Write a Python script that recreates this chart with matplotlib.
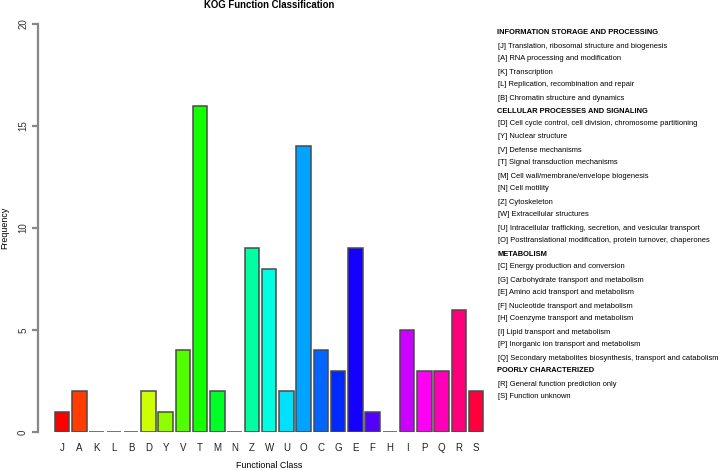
import matplotlib
matplotlib.use("Agg")
import matplotlib.pyplot as plt
import colorsys

categories = ["J", "A", "K", "L", "B", "D", "Y", "V", "T", "M", "N", "Z", "W",
              "U", "O", "C", "G", "E", "F", "H", "I", "P", "Q", "R", "S"]
values = [1, 2, 0, 0, 0, 2, 1, 4, 16, 2, 0, 9, 8, 2, 14, 4, 3, 9, 1, 0, 5, 3, 3, 6, 2]
y_ticks = [0, 5, 10, 15, 20]

legend_groups = [
    ("INFORMATION STORAGE AND PROCESSING", [
        "[J] Translation, ribosomal structure and biogenesis",
        "[A] RNA processing and modification",
        "[K] Transcription",
        "[L] Replication, recombination and repair",
        "[B] Chromatin structure and dynamics"]),
    ("CELLULAR PROCESSES AND SIGNALING", [
        "[D] Cell cycle control, cell division, chromosome partitioning",
        "[Y] Nuclear structure",
        "[V] Defense mechanisms",
        "[T] Signal transduction mechanisms",
        "[M] Cell wall/membrane/envelope biogenesis",
        "[N] Cell motility",
        "[Z] Cytoskeleton",
        "[W] Extracellular structures",
        "[U] Intracellular trafficking, secretion, and vesicular transport",
        "[O] Posttranslational modification, protein turnover, chaperones"]),
    ("METABOLISM", [
        "[C] Energy production and conversion",
        "[G] Carbohydrate transport and metabolism",
        "[E] Amino acid transport and metabolism",
        "[F] Nucleotide transport and metabolism",
        "[H] Coenzyme transport and metabolism",
        "[I] Lipid transport and metabolism",
        "[P] Inorganic ion transport and metabolism",
        "[Q] Secondary metabolites biosynthesis, transport and catabolism"]),
    ("POORLY CHARACTERIZED", [
        "[R] General function prediction only",
        "[S] Function unknown"]),
]

plt.rcParams['font.family'] = ['Liberation Sans', 'DejaVu Sans']

W, H = 721, 470
fig = plt.figure(figsize=(W / 100, H / 100), dpi=100)
fig.patch.set_facecolor("white")

left_px, right_px, top_px, bottom_px = 37.8, 500.5, 24, 432
ax = fig.add_axes([left_px / W, (H - bottom_px) / H,
                   (right_px - left_px) / W, (bottom_px - top_px) / H])

n = len(categories)
colors = [colorsys.hsv_to_rgb(i / n, 1, 1) for i in range(n)]
xs = [0.7 + 1.2 * i for i in range(n)]
ax.bar(xs, values, width=1.0, color=colors, edgecolor="#4a4a4a", linewidth=1.1)

ax.set_xlim(0.2 - 0.04 * 29.8, 30.0 + 0.04 * 29.8)
ax.set_ylim(0, 20)

for s in ["top", "right", "bottom"]:
    ax.spines[s].set_visible(False)
ax.spines["left"].set_color("#888888")
ax.spines["left"].set_linewidth(1.6)
ax.spines["left"].set_bounds(0, 20)

ax.set_yticks(y_ticks)
ax.set_yticklabels([str(t) for t in y_ticks], rotation=90, va="center", fontsize=7)
ax.tick_params(axis="y", length=4, width=1.6, color="#888888", labelcolor="#333333", pad=3)
ax.set_xticks(xs)
ax.set_xticklabels(categories, fontsize=7)
ax.tick_params(axis="x", length=0, pad=8, labelcolor="#222222")

fig.text(269 / W, 1 - 5 / H, "KOG Function Classification", ha="center", va="center",
         fontsize=6.9, fontweight="bold")
fig.text(269 / W, 1 - 465 / H, "Functional Class", ha="center", va="center", fontsize=6.4)
fig.text(5 / W, 1 - 228 / H, "Frequency", ha="center", va="center", rotation=90, fontsize=6.4)

y = 33
for header, items in legend_groups:
    fig.text(497 / W, 1 - y / H, header, ha="left", va="center", fontsize=5.45, fontweight="bold")
    y += 13
    for it in items:
        fig.text(498.5 / W, 1 - y / H, it, ha="left", va="center", fontsize=5.45)
        y += 13

fig.savefig("out.png", dpi=100, facecolor="white")
